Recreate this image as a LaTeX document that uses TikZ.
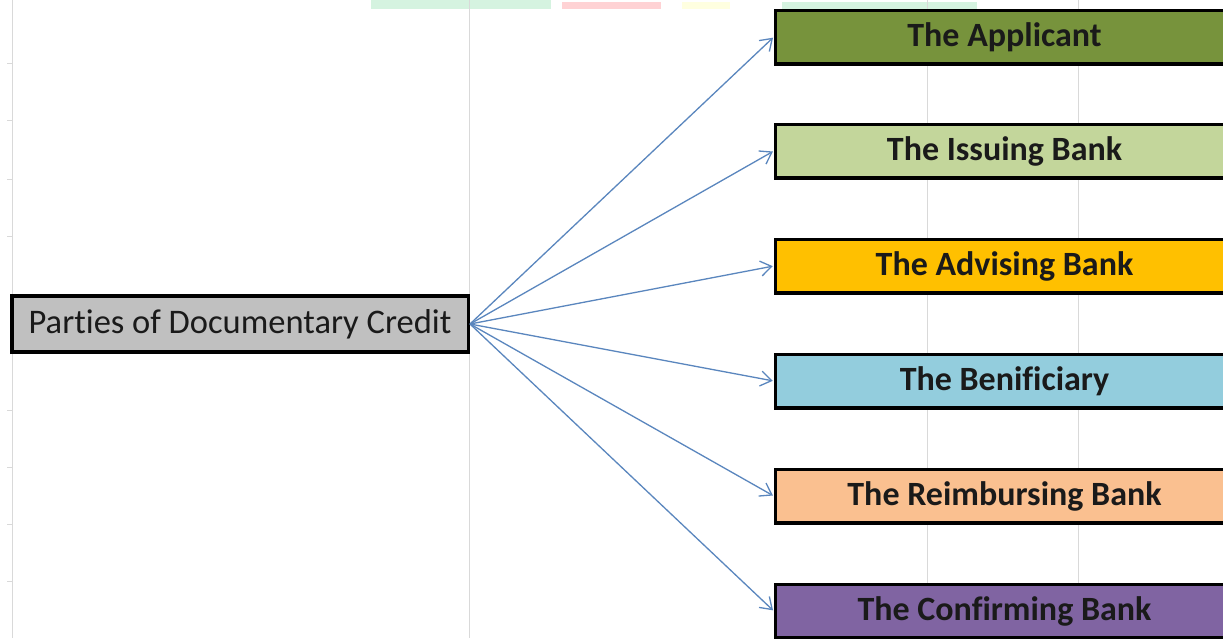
\documentclass[tikz,border=0pt]{standalone}
\usepackage{fontspec}
\setmainfont[Ligatures={NoCommon,TeX}]{Carlito}
\usetikzlibrary{arrows.meta}
\definecolor{gridc}{HTML}{D9D9D9}
\definecolor{arrowc}{HTML}{5A86BE}
\definecolor{cApp}{HTML}{77933C}
\definecolor{cIss}{HTML}{C3D69B}
\definecolor{cAdv}{HTML}{FFC000}
\definecolor{cBen}{HTML}{93CDDD}
\definecolor{cRei}{HTML}{FAC090}
\definecolor{cCon}{HTML}{8064A2}
\definecolor{cPar}{HTML}{C0C0C0}
\definecolor{fGreen}{HTML}{D5F3E0}
\definecolor{fRed}{HTML}{FFD2D4}
\definecolor{fYellow}{HTML}{FFFFE0}
\definecolor{txt}{HTML}{1A1A1A}
\tikzset{
  partybox/.style={draw=black, line width=3.5pt, anchor=west, minimum width=458pt,
    minimum height=53.5pt, inner sep=0pt, font=\fontsize{34}{34}\selectfont\bfseries, text=txt},
  rootbox/.style={draw=black, line width=3.5pt, fill=cPar, minimum width=456.5pt,
    minimum height=56pt, inner sep=0pt, font=\fontsize{34.5}{34.5}\selectfont, text=txt},
  link/.style={draw=arrowc, line width=1.3pt, -{Straight Barb[length=11pt,width=15pt]}, shorten >=1pt},
  gridline/.style={draw=gridc, line width=1pt}
}
\begin{document}
\begin{tikzpicture}[x=1pt,y=-1pt]
\useasboundingbox (0,0) rectangle (1223,638);
\fill[white] (0,0) rectangle (1223,638);
% faint colour strips at top
\fill[fGreen] (371,0) rectangle (551,9);
\fill[fRed] (562,2) rectangle (661,9);
\fill[fYellow] (682,2) rectangle (730,9);
\fill[fGreen] (782,2) rectangle (977,9);
% grid lines
\foreach \x in {12,469,927,1078} \draw[gridline] (\x,0) -- (\x,638);
\foreach \y in {63,120,179,236,410,467,524,581} \draw[gridline] (7,\y) -- (13,\y);
% nodes
\node[rootbox] (root) at (240,324) {Parties of Documentary Credit};
\node[partybox, fill=cApp] (app) at (773.75,37) {The Applicant};
\node[partybox, fill=cIss] (iss) at (773.75,151) {The Issuing Bank};
\node[partybox, fill=cAdv] (adv) at (773.75,266) {The Advising Bank};
\node[partybox, fill=cBen] (ben) at (773.75,381) {The Benificiary};
\node[partybox, fill=cRei] (rei) at (773.75,496) {The Reimbursing Bank};
\node[partybox, fill=cCon] (con) at (773.75,611) {The Confirming Bank};
% connectors
\foreach \t in {app,iss,adv,ben,rei,con}
  \draw[link] (root.east) -- (\t.west);
\end{tikzpicture}
\end{document}
